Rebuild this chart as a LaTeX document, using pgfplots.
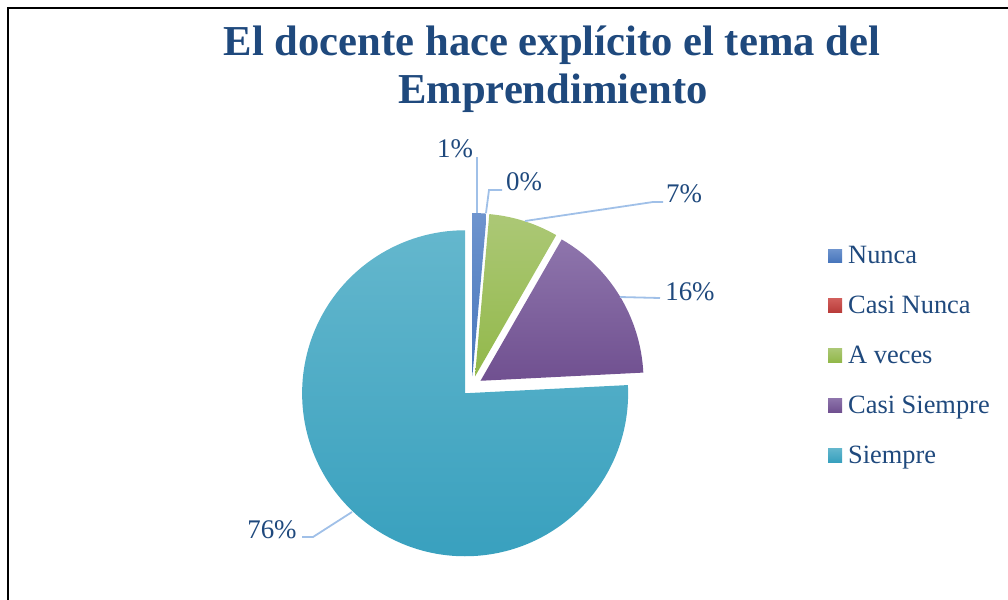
\documentclass[border=0pt]{standalone}
\usepackage{pgfplots}
\pgfplotsset{compat=1.18}
\usepackage{fontspec}
\setmainfont{Liberation Serif}
\definecolor{txt}{RGB}{31,73,125}
\definecolor{lead}{RGB}{160,192,232}
\definecolor{bluT}{RGB}{110,148,206}\definecolor{bluB}{RGB}{72,118,188}
\definecolor{redT}{RGB}{210,95,92}\definecolor{redB}{RGB}{185,60,58}
\definecolor{grnT}{RGB}{172,200,118}\definecolor{grnB}{RGB}{146,184,74}
\definecolor{purT}{RGB}{142,117,172}\definecolor{purB}{RGB}{112,80,144}
\definecolor{aquT}{RGB}{100,183,205}\definecolor{aquB}{RGB}{56,160,190}
% data (percent)
\def\vA{1.4}\def\vB{0}\def\vC{6.9}\def\vD{15.9}\def\vE{75.8}
\def\cx{472}\def\cy{386}\def\R{163}\def\ex{10}
\pgfmathsetmacro\sA{90}
\pgfmathsetmacro\eA{\sA-3.6*\vA}
\pgfmathsetmacro\eB{\eA-3.6*\vB}
\pgfmathsetmacro\eC{\eB-3.6*\vC}
\pgfmathsetmacro\eD{\eC-3.6*\vD}
\pgfmathsetmacro\eE{\eD-3.6*\vE}
\pgfmathsetmacro\mA{(\sA+\eA)/2}\pgfmathsetmacro\xA{\cx+\ex*cos(\mA)}\pgfmathsetmacro\yA{\cy-\ex*sin(\mA)}
\pgfmathsetmacro\mC{(\eB+\eC)/2}\pgfmathsetmacro\xC{\cx+\ex*cos(\mC)}\pgfmathsetmacro\yC{\cy-\ex*sin(\mC)}
\pgfmathsetmacro\mD{(\eC+\eD)/2}\pgfmathsetmacro\xD{\cx+\ex*cos(\mD)}\pgfmathsetmacro\yD{\cy-\ex*sin(\mD)}
\pgfmathsetmacro\mE{(\eD+\eE)/2}\pgfmathsetmacro\xE{\cx+\ex*cos(\mE)}\pgfmathsetmacro\yE{\cy-\ex*sin(\mE)}
\begin{document}
\begin{tikzpicture}
\useasboundingbox (0,0) rectangle (1008bp,600bp);
\begin{axis}[at={(0,0)},anchor=south west,
  scale only axis, width=1008bp, height=600bp,
  xmin=0, xmax=1008, ymin=0, ymax=600, y dir=reverse,
  enlargelimits=false, hide axis, clip=false]
% frame
\draw[black, line width=1.6bp] (axis cs:8,600) -- (axis cs:8,8) -- (axis cs:1008,8);
% slices
\shade[top color=aquT, bottom color=aquB] (axis cs:\xE,\yE) -- ++(\eD:\R bp) arc[start angle=\eD, end angle=\eE, radius=\R bp] -- cycle;
\shade[top color=purT, bottom color=purB] (axis cs:\xD,\yD) -- ++(\eC:\R bp) arc[start angle=\eC, end angle=\eD, radius=\R bp] -- cycle;
\shade[top color=grnT, bottom color=grnB] (axis cs:\xC,\yC) -- ++(\eB:\R bp) arc[start angle=\eB, end angle=\eC, radius=\R bp] -- cycle;
\shade[top color=bluT, bottom color=bluB] (axis cs:\xA,\yA) -- ++(\sA:\R bp) arc[start angle=\sA, end angle=\eA, radius=\R bp] -- cycle;
% leader lines
\begin{scope}[lead, line width=1.8bp]
\draw (axis cs:477,213) -- (axis cs:477,157);
\draw (axis cs:486,213) -- (axis cs:489,190) -- (axis cs:502,190);
\draw (axis cs:525,221) -- (axis cs:653,202) -- (axis cs:663,202);
\draw (axis cs:620,297) -- (axis cs:660,298);
\draw (axis cs:352,512) -- (axis cs:313,537) -- (axis cs:302,537);
\end{scope}
% data labels
\begin{scope}[every node/.style={inner sep=0pt, anchor=base, text=txt, font=\fontsize{27}{30}\selectfont}]
\node at (axis cs:455,157) {1\%};
\node at (axis cs:524,190) {0\%};
\node at (axis cs:684,202) {7\%};
\node at (axis cs:690,300) {16\%};
\node at (axis cs:272,538) {76\%};
\end{scope}
% title
\node[anchor=base, inner sep=0pt, text=txt, font=\fontsize{42.8}{48}\selectfont\bfseries] at (axis cs:552,55) {El docente hace explícito el tema del};
\node[anchor=base, inner sep=0pt, text=txt, font=\fontsize{42.8}{48}\selectfont\bfseries] at (axis cs:553,103) {Emprendimiento};
% legend
\shade[top color=bluT, bottom color=bluB] (axis cs:828,249) rectangle (axis cs:842,262);
\shade[top color=redT, bottom color=redB] (axis cs:828,298) rectangle (axis cs:842,312);
\shade[top color=grnT, bottom color=grnB] (axis cs:828,348) rectangle (axis cs:842,362);
\shade[top color=purT, bottom color=purB] (axis cs:828,398) rectangle (axis cs:842,412);
\shade[top color=aquT, bottom color=aquB] (axis cs:828,448) rectangle (axis cs:842,462);
\begin{scope}[every node/.style={inner sep=0pt, anchor=base west, text=txt, font=\fontsize{26.5}{30}\selectfont}]
\node at (axis cs:848,263) {Nunca};
\node at (axis cs:848,313) {Casi Nunca};
\node at (axis cs:848,363) {A veces};
\node at (axis cs:848,413) {Casi Siempre};
\node at (axis cs:848,463) {Siempre};
\end{scope}
\end{axis}
\end{tikzpicture}
\end{document}
